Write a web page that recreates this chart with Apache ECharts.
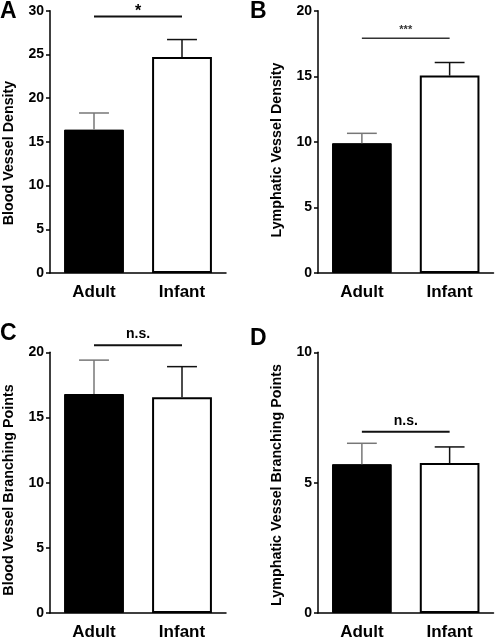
<!DOCTYPE html>
<html>
<head>
<meta charset="utf-8">
<script src="https://cdn.jsdelivr.net/npm/echarts@6/dist/echarts.min.js"></script>
<style>html,body{margin:0;padding:0;background:#fff}#c{width:495px;height:641px}</style>
</head>
<body>
<div id="c"></div>
<script>
const categories = ['Adult', 'Infant'];
const bloodDensity = [16.4, 24.7];
const bloodDensityErr = [1.9, 2.0];
const lymphDensity = [9.9, 15.05];
const lymphDensityErr = [0.75, 1.0];
const bloodBranch = [16.8, 16.55];
const bloodBranchErr = [2.6, 2.35];
const lymphBranch = [5.71, 5.75];
const lymphBranchErr = [0.8, 0.62];
const yMax = [30, 20, 20, 10];
const yInterval = [5, 5, 5, 5];
const sigLevels = [29.35, 17.9, 20.55, 6.95];
const sigLabels = ['*', '***', 'n.s.', 'n.s.'];
const yTitles = ['Blood Vessel Density', 'Lymphatic Vessel Density', 'Blood Vessel Branching Points', 'Lymphatic Vessel Branching Points'];
const panelLetters = ['A', 'B', 'C', 'D'];

const values = [bloodDensity, lymphDensity, bloodBranch, lymphBranch];
const errors = [bloodDensityErr, lymphDensityErr, bloodBranchErr, lymphBranchErr];

const FONT = 'Liberation Sans, Arial, sans-serif';
const grids = [
  {left: 50, top: 10.7, width: 176, height: 262.3},
  {left: 318, top: 10.7, width: 175.5, height: 262.3},
  {left: 50, top: 352.3, width: 176, height: 262.7},
  {left: 318, top: 352.3, width: 175.5, height: 262.7}
];

const xAxis = [], yAxis = [], series = [];
for (let i = 0; i < 4; i++) {
  xAxis.push({
    type: 'category', gridIndex: i, data: categories,
    axisLine: {lineStyle: {color: '#000', width: 1.5}},
    axisTick: {show: false},
    axisLabel: {color: '#000', fontWeight: 'bold', fontSize: 17, fontFamily: FONT, margin: 11}
  });
  yAxis.push({
    type: 'value', gridIndex: i, min: 0, max: yMax[i], interval: yInterval[i],
    axisLine: {show: true, lineStyle: {color: '#000', width: 1.5}},
    axisTick: {show: true, length: 4, lineStyle: {color: '#000', width: 1.5}},
    splitLine: {show: false},
    axisLabel: {color: '#000', fontWeight: 'bold', fontSize: 14, fontFamily: FONT, margin: 6}
  });
  series.push({
    type: 'bar', xAxisIndex: i, yAxisIndex: i, barWidth: '68%',
    data: values[i].map((v, k) => ({
      value: v,
      itemStyle: k === 0 ? {color: '#000', borderColor: '#000', borderWidth: 1}
                         : {color: '#fff', borderColor: '#000', borderWidth: 2}
    })),
    silent: true
  });
  const vals = values[i], errs = errors[i];
  series.push({
    type: 'custom', xAxisIndex: i, yAxisIndex: i, silent: true, clip: false, z: 5,
    data: vals.map((v, k) => [k, v, errs[k]]),
    renderItem: function (params, api) {
      const k = api.value(0), v = api.value(1), e = api.value(2);
      const base = api.coord([k, v]);
      const top = api.coord([k, v + e]);
      const half = api.size([1, 0])[0] * 0.17;
      const col = k === 0 ? '#777' : '#111';
      return {
        type: 'group', children: [
          {type: 'line', shape: {x1: base[0], y1: base[1], x2: top[0], y2: top[1]}, style: {stroke: col, lineWidth: 1.5}},
          {type: 'line', shape: {x1: top[0] - half, y1: top[1], x2: top[0] + half, y2: top[1]}, style: {stroke: col, lineWidth: 1.5}}
        ]
      };
    }
  });
  const lvl = sigLevels[i], lab = sigLabels[i];
  series.push({
    type: 'custom', xAxisIndex: i, yAxisIndex: i, silent: true, clip: false, z: 5,
    data: [[0, 1, lvl]],
    renderItem: function (params, api) {
      const p0 = api.coord([api.value(0), api.value(2)]);
      const p1 = api.coord([api.value(1), api.value(2)]);
      const small = lab === '***';
      const star = lab === '*';
      return {
        type: 'group', children: [
          {type: 'line', shape: {x1: p0[0], y1: p0[1], x2: p1[0], y2: p1[1]}, style: {stroke: small ? '#333' : '#111', lineWidth: small ? 1.3 : 2}},
          {type: 'text', style: {text: lab, x: (p0[0] + p1[0]) / 2,
            y: star ? p0[1] - 13 : p0[1] - (small ? 3 : 4),
            align: 'center', verticalAlign: star ? 'top' : 'bottom',
            fill: small ? '#333' : '#000', font: (small ? 'bold 11px ' : (star ? 'bold 16px ' : 'bold 14px ')) + FONT}}
        ]
      };
    }
  });
}

const titlePos = [[9, 153], [277, 150], [9, 490], [277, 485]];
const letterPos = [[0, 0], [250, 0], [0, 322], [250, 327]];
const graphic = [];
for (let i = 0; i < 4; i++) {
  graphic.push({
    type: 'text', x: titlePos[i][0], y: titlePos[i][1], rotation: Math.PI / 2,
    style: {text: yTitles[i], align: 'center', verticalAlign: 'middle', fill: '#000', font: 'bold 14.3px ' + FONT}
  });
  graphic.push({
    type: 'text', x: letterPos[i][0], y: letterPos[i][1],
    style: {text: panelLetters[i], align: 'left', verticalAlign: 'top', fill: '#000', font: 'bold 23px ' + FONT}
  });
}

const chart = echarts.init(document.getElementById('c'), null, {renderer: 'canvas'});
chart.setOption({
  animation: false,
  backgroundColor: '#fff',
  grid: grids,
  xAxis: xAxis,
  yAxis: yAxis,
  series: series,
  graphic: graphic
});
</script>
</body>
</html>
